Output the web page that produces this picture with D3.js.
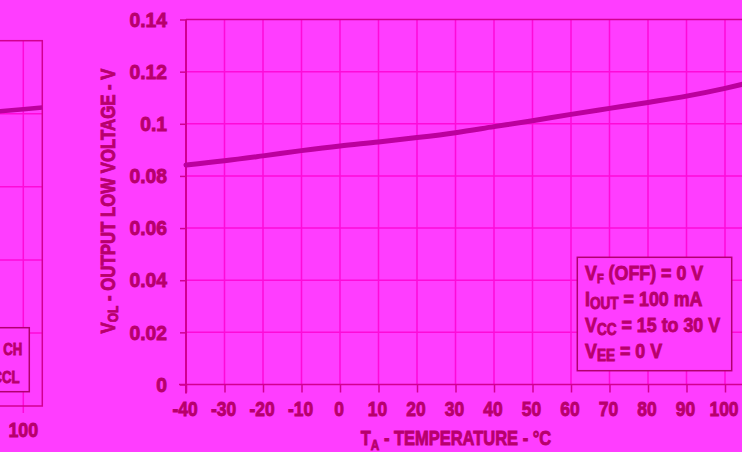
<!DOCTYPE html>
<html><head><meta charset="utf-8">
<script src="https://cdn.jsdelivr.net/npm/d3@7"></script>
<style>
html,body{margin:0;padding:0;background:#FF3DFF;}
svg text{font-family:"Liberation Sans",Arial,sans-serif;font-weight:bold;fill:#B8006C;stroke:#B8006C;stroke-width:0.9px;}
</style></head>
<body><svg id="c" width="742" height="452"></svg>
<script>
// ---- data ----
const temps = [-40,-30,-20,-10,0,10,20,30,40,50,60,70,80,90,100,105];
const vol   = [0.0842,0.0858,0.0877,0.0897,0.0915,0.0930,0.0947,0.0966,0.0989,0.1012,0.1036,0.1059,0.1082,0.1106,0.1136,0.1153];
const xTicks = [-40,-30,-20,-10,0,10,20,30,40,50,60,70,80,90,100];
const xTickLabels = ["-40","-30","-20","-10","0","10","20","30","40","50","60","70","80","90","100"];
const yTicks = [0,0.02,0.04,0.06,0.08,0.1,0.12,0.14];
const yTickLabels = ["0","0.02","0.04","0.06","0.08","0.1","0.12","0.14"];
const legendLines = [["V","F"," (OFF) = 0 V"],["I","OUT"," = 100 mA"],["V","CC"," = 15 to 30 V"],["V","EE"," = 0 V"]];
// partial neighbouring chart at the left edge
const leftTemps = [80,100,110];
const leftVals  = [4.017,4.062,4.086];
const leftXTicks = [100];
const leftYTicks = [1,2,3,4];

const BG="#FF3DFF", GRID="#FF0AD8", AXIS="#D20090", CURVE="#BC009E", BOX="#B2006E";
const svg = d3.select("#c");
svg.append("rect").attr("width",742).attr("height",452).attr("fill",BG);

// ---- left partial chart ----
const lx = d3.scaleLinear().domain([100,110]).range([23.3,42.3]);
const ly = d3.scaleLinear().domain([0,5]).range([406,40.7]);
const L = svg.append("g");
L.selectAll(".lgy").data(leftYTicks).join("line")
  .attr("x1",-50).attr("x2",lx(110)).attr("y1",d=>ly(d)).attr("y2",d=>ly(d))
  .attr("stroke",GRID).attr("stroke-width",1.5);
L.selectAll(".lgx").data(leftXTicks).join("line")
  .attr("x1",d=>lx(d)).attr("x2",d=>lx(d)).attr("y1",ly(5)).attr("y2",ly(0)+7)
  .attr("stroke",GRID).attr("stroke-width",1.5);
L.append("rect").attr("x",-50).attr("y",ly(5)).attr("width",lx(110)+50).attr("height",ly(0)-ly(5))
  .attr("fill","none").attr("stroke",AXIS).attr("stroke-width",1.5);
L.append("path").datum(leftTemps.map((t,i)=>[t,leftVals[i]]))
  .attr("d",d3.line().x(d=>lx(d[0])).y(d=>ly(d[1])))
  .attr("fill","none").attr("stroke",CURVE).attr("stroke-width",4.5);
L.append("rect").attr("x",-60).attr("y",327.7).attr("width",89.3).attr("height",64)
  .attr("fill",BG).attr("stroke",BOX).attr("stroke-width",1.5);
L.append("text").attr("transform","translate(3.3,355) scale(0.8,1)").style("font-size","16.5px").text("CH");
L.append("text").attr("transform","translate(19.5,383.3) scale(0.8,1)").attr("text-anchor","end")
  .style("font-size","16.5px").text("CCL");
L.selectAll(".llab").data(leftXTicks).join("text")
  .attr("transform",d=>`translate(${lx(d)},436.7) scale(0.85,1)`)
  .attr("text-anchor","middle").style("font-size","21px").text(d=>d);

// ---- main chart ----
const x = d3.scaleLinear().domain([-40,110]).range([186,763.5]);
const y = d3.scaleLinear().domain([0,0.14]).range([384.5,19.5]);

// grid
svg.append("g").selectAll("line").data(xTicks.slice(1).concat([110])).join("line")
  .attr("x1",d=>x(d)).attr("x2",d=>x(d)).attr("y1",y(0.14)).attr("y2",y(0))
  .attr("stroke",GRID).attr("stroke-width",1.5);
svg.append("g").selectAll("line").data(yTicks.slice(1,-1)).join("line")
  .attr("x1",x(-40)).attr("x2",x(110)).attr("y1",d=>y(d)).attr("y2",d=>y(d))
  .attr("stroke",GRID).attr("stroke-width",1.5);
svg.append("line").attr("x1",x(-40)).attr("x2",x(110)).attr("y1",y(0.14)).attr("y2",y(0.14))
  .attr("stroke",AXIS).attr("stroke-width",1.5);

// axes
const KX = 0.83, KY = 0.92;
const xAxis = svg.append("g").attr("transform",`translate(0,${y(0)})`)
  .call(d3.axisBottom(x).tickValues(xTicks).tickSize(8).tickPadding(8.5)
        .tickFormat((d,i)=>xTickLabels[i]));
xAxis.select(".domain").remove();
xAxis.append("line").attr("x1",179).attr("x2",x(110)).attr("stroke",AXIS).attr("stroke-width",1.5);
xAxis.selectAll(".tick line").attr("stroke",AXIS).attr("stroke-width",1.5);
xAxis.selectAll(".tick text").style("font-size","21px").attr("fill",null)
  .attr("x",-1.5/KX).attr("transform",`scale(${KX},1)`);

const yAxis = svg.append("g").attr("transform",`translate(${x(-40)},0)`)
  .call(d3.axisLeft(y).tickValues(yTicks).tickSize(6).tickPadding(13)
        .tickFormat((d,i)=>yTickLabels[i]));
yAxis.select(".domain").remove();
yAxis.append("line").attr("y1",y(0.14)).attr("y2",y(0)+9).attr("stroke",AXIS).attr("stroke-width",2);
yAxis.selectAll(".tick line").attr("stroke",AXIS).attr("stroke-width",1.5);
yAxis.selectAll(".tick text").style("font-size","21px").attr("fill",null)
  .attr("x",-19/KY).attr("transform",`scale(${KY},1)`);

// curve
svg.append("path").datum(temps.map((t,i)=>[t,vol[i]]))
  .attr("d",d3.line().x(d=>x(d[0])).y(d=>y(d[1])).curve(d3.curveMonotoneX))
  .attr("fill","none").attr("stroke",CURVE).attr("stroke-width",5).attr("stroke-linecap","round");

// legend box
svg.append("rect").attr("x",577.3).attr("y",257.3).attr("width",154.4).attr("height",113.4)
  .attr("fill",BG).attr("stroke",BOX).attr("stroke-width",1.5);
legendLines.forEach((l,i)=>{
  const t = svg.append("text").attr("transform",`translate(585,${280+i*26}) scale(0.85,1)`)
    .style("font-size","21px");
  t.append("tspan").text(l[0]);
  t.append("tspan").attr("dy",3).style("font-size", i===0?"13px":"16px").text(l[1]);
  t.append("tspan").attr("dy",-3).text(l[2]);
});

// axis titles
const yt = svg.append("text").attr("transform","translate(115,201) rotate(-90) scale(0.8,1)")
  .attr("text-anchor","middle").style("font-size","21px");
yt.append("tspan").text("V");
yt.append("tspan").attr("dy",3).style("font-size","15px").text("OL");
yt.append("tspan").attr("dy",-3).text(" - OUTPUT LOW VOLTAGE - V");

const xt = svg.append("text").attr("transform","translate(456,445) scale(0.785,1)")
  .attr("text-anchor","middle").style("font-size","21px");
xt.append("tspan").text("T");
xt.append("tspan").attr("dy",5).style("font-size","15px").text("A");
xt.append("tspan").attr("dy",-5).text(" - TEMPERATURE - °C");
</script></body></html>
